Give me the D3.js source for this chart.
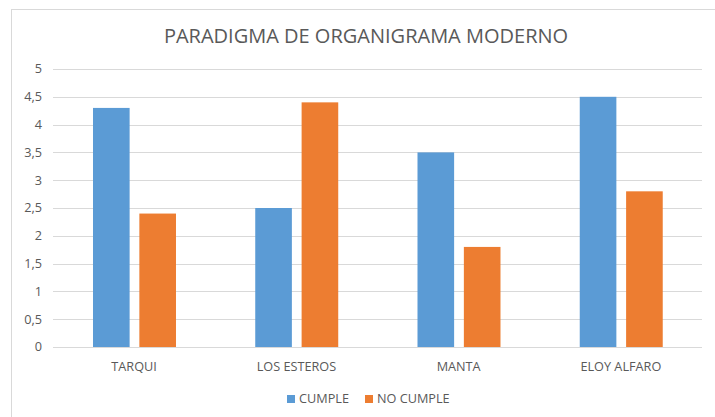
<!DOCTYPE html>
<html>
<head>
<meta charset="utf-8">
<script src="https://cdn.jsdelivr.net/npm/d3@7"></script>
<style>
  body { margin: 0; background: #fff; }
  text { font-family: "Open Sans", sans-serif; fill: #595959; }
</style>
</head>
<body>
<svg id="chart" width="715" height="417"></svg>
<script>
// data
var categories = ["TARQUI", "LOS ESTEROS", "MANTA", "ELOY ALFARO"];
var seriesNames = ["CUMPLE", "NO CUMPLE"];
var cumple = [4.3, 2.5, 3.5, 4.5];
var noCumple = [2.4, 4.4, 1.8, 2.8];
var yTicks = [0, 0.5, 1, 1.5, 2, 2.5, 3, 3.5, 4, 4.5, 5];
var colors = ["#5b9bd5", "#ed7d31"];

var svg = d3.select("#chart");

var plotLeft = 53, plotRight = 702, plotTop = 69, plotBottom = 347;

// chart area border
svg.append("rect")
    .attr("x", 11.5)
    .attr("y", 9.5)
    .attr("width", 720)
    .attr("height", 420)
    .attr("fill", "none")
    .attr("stroke", "#d9d9d9");

var y = d3.scaleLinear().domain([0, 5]).range([plotBottom, plotTop]);
var x0 = d3.scaleBand().domain(categories).range([plotLeft, plotRight]).padding(0);
var x1 = d3.scaleBand().domain(seriesNames)
    .range([x0.bandwidth() * 0.2465, x0.bandwidth() * 0.758])
    .paddingInner(0.21);

// gridlines
svg.append("g").selectAll("line")
    .data(yTicks)
    .enter().append("line")
    .attr("x1", plotLeft)
    .attr("x2", plotRight)
    .attr("y1", function (d) { return Math.round(y(d)) + 0.5; })
    .attr("y2", function (d) { return Math.round(y(d)) + 0.5; })
    .attr("stroke", "#d9d9d9")
    .attr("stroke-width", 1);

// y labels
var fmt = function (d) { return String(d).replace(".", ","); };
svg.append("g").selectAll("text")
    .data(yTicks)
    .enter().append("text")
    .attr("x", 42)
    .attr("y", function (d) { return y(d); })
    .attr("dy", "0.35em")
    .attr("text-anchor", "end")
    .attr("font-size", 12.7)
    .text(fmt);

// bars
var rows = categories.map(function (c, i) {
    return { cat: c, values: [cumple[i], noCumple[i]] };
});

var groups = svg.append("g").selectAll("g")
    .data(rows)
    .enter().append("g")
    .attr("transform", function (d) { return "translate(" + x0(d.cat) + ",0)"; });

groups.selectAll("rect")
    .data(function (d) { return d.values.map(function (v, j) { return { name: seriesNames[j], value: v, idx: j }; }); })
    .enter().append("rect")
    .attr("x", function (d) { return x1(d.name); })
    .attr("width", x1.bandwidth())
    .attr("y", function (d) { return y(d.value); })
    .attr("height", function (d) { return y(0) - y(d.value); })
    .attr("fill", function (d) { return colors[d.idx]; });

// baseline
svg.append("line")
    .attr("x1", plotLeft).attr("x2", plotRight)
    .attr("y1", plotBottom + 0.5).attr("y2", plotBottom + 0.5)
    .attr("stroke", "#d9d9d9");

// category labels
svg.append("g").selectAll("text")
    .data(categories)
    .enter().append("text")
    .attr("x", function (d) { return x0(d) + x0.bandwidth() / 2; })
    .attr("y", 367)
    .attr("dy", "0.35em")
    .attr("text-anchor", "middle")
    .attr("font-size", 12.7)
    .text(function (d) { return d; });

// title
svg.append("text")
    .attr("x", 366)
    .attr("y", 43)
    .attr("text-anchor", "middle")
    .attr("font-size", 20)
    .text("PARADIGMA DE ORGANIGRAMA MODERNO");

// legend
var legendX = [287, 365];
var legend = svg.append("g").selectAll("g")
    .data(seriesNames)
    .enter().append("g")
    .attr("transform", function (d, i) { return "translate(" + legendX[i] + ",399)"; });

legend.append("rect")
    .attr("x", 0).attr("y", -4)
    .attr("width", 8).attr("height", 8)
    .attr("fill", function (d, i) { return colors[i]; });

legend.append("text")
    .attr("x", 12)
    .attr("dy", "0.35em")
    .attr("font-size", 12.7)
    .text(function (d) { return d; });
</script>
</body>
</html>
